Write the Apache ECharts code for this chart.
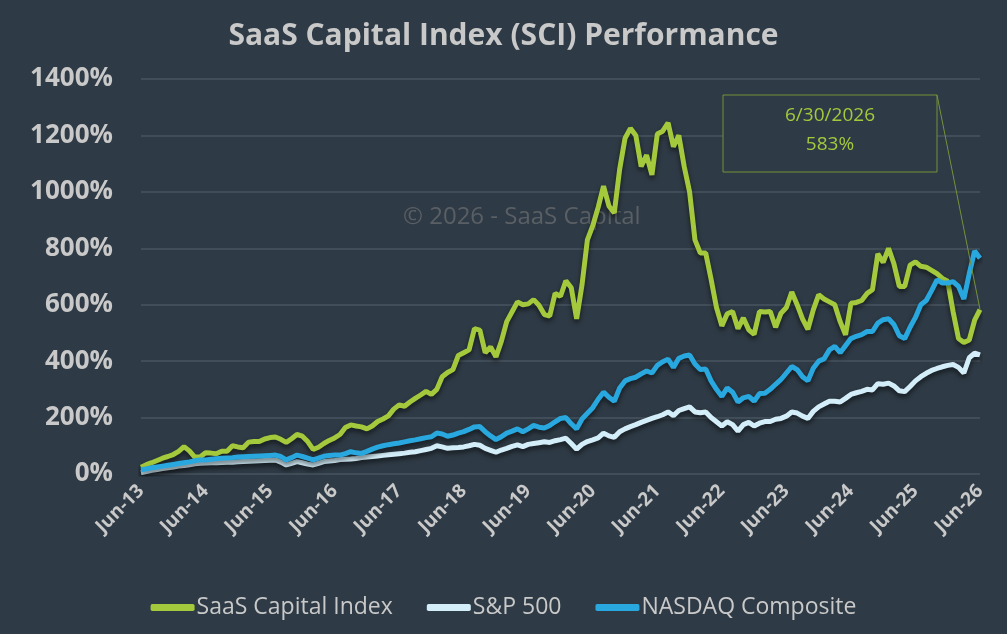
<!DOCTYPE html>
<html>
<head>
<meta charset="utf-8">
<script src="https://cdn.jsdelivr.net/npm/echarts@6/dist/echarts.min.js"></script>
<style>
  html, body { margin: 0; padding: 0; background: #2e3a45; }
  #chart { width: 1007px; height: 634px; }
</style>
</head>
<body>
<div id="chart"></div>
<script>
// monthly points, Jun-13 .. Jun-26 (157 months)
const monthNames = ["Jan", "Feb", "Mar", "Apr", "May", "Jun", "Jul", "Aug", "Sep", "Oct", "Nov", "Dec"];
const categories = [];
for (let i = 0; i < 157; i++) {
  const m = (5 + i) % 12;
  const y = 13 + Math.floor((5 + i) / 12);
  categories.push(monthNames[m] + "-" + y);
}

const yTicks = [0, 200, 400, 600, 800, 1000, 1200, 1400];

const saasIndex = [
  24, 33, 40, 48, 56, 62, 69, 80, 97, 82, 60, 60, 75, 74, 72, 81, 81, 100, 96, 93,
  113, 115, 115, 124, 129, 131, 123, 112, 125, 140, 134, 115, 87, 95, 108, 119, 128, 140, 165, 174,
  170, 167, 160, 170, 186, 195, 206, 230, 245, 240, 255, 268, 280, 293, 282, 300, 345, 360, 370, 420,
  430, 440, 515, 510, 430, 450, 415, 470, 540, 575, 610, 600, 603, 618, 598, 565, 560, 640, 630, 685,
  660, 550, 670, 830, 880, 945, 1020, 950, 925, 1080, 1190, 1225, 1200, 1090, 1130, 1060, 1205, 1215, 1245, 1160,
  1200, 1090, 1000, 830, 783, 783, 690, 590, 525, 568, 576, 515, 553, 511, 495, 576, 574, 576, 520, 570,
  590, 645, 600, 550, 513, 582, 635, 620, 610, 600, 540, 493, 605, 608, 615, 640, 653, 780, 750, 800,
  745, 665, 665, 740, 752, 736, 733, 722, 710, 693, 683, 575, 480, 466, 475, 545, 583
];

const sp500 = [
  5, 9, 13, 16, 19, 22, 25, 28, 30, 33, 36, 38, 39, 40, 40, 41, 42, 42, 43, 44,
  45, 46, 47, 48, 49, 50, 42, 32, 38, 44, 40, 35, 32, 38, 44, 46, 48, 51, 52, 53,
  55, 58, 60, 62, 64, 66, 68, 70, 72, 74, 77, 79, 83, 87, 91, 100, 96, 91, 93, 94,
  96, 100, 105, 102, 91, 84, 77, 85, 91, 98, 103, 97, 105, 108, 111, 114, 112, 118, 122, 127,
  108, 88, 105, 115, 121, 128, 145, 135, 130, 150, 160, 168, 175, 183, 190, 197, 203, 210, 220, 207,
  225, 232, 238, 220, 217, 220, 200, 185, 170, 185, 175, 152, 175, 183, 170, 180, 186, 186, 194, 197,
  205, 220, 216, 205, 197, 222, 238, 248, 258, 258, 255, 268, 282, 288, 293, 300, 298, 320, 318, 322,
  312, 295, 292, 310, 330, 345, 357, 367, 374, 380, 385, 388, 378, 358, 412, 428, 422
];

const nasdaq = [
  14, 18, 22, 25, 28, 31, 34, 37, 40, 43, 47, 50, 50, 52, 54, 56, 57, 58, 60, 61,
  62, 63, 64, 65, 66, 67, 62, 50, 58, 67, 62, 56, 50, 56, 63, 66, 67, 67, 72, 79,
  75, 73, 80, 88, 95, 100, 104, 107, 110, 114, 118, 121, 125, 129, 132, 145, 142, 134, 138, 145,
  150, 158, 167, 168, 150, 135, 122, 132, 145, 152, 160, 150, 160, 172, 166, 163, 172, 185, 197, 200,
  178, 160, 195, 215, 235, 265, 290, 272, 258, 305, 330, 338, 343, 355, 365, 358, 385, 398, 407, 378,
  410, 418, 422, 390, 370, 372, 330, 300, 275, 305, 290, 255, 270, 275, 258, 285, 286, 300, 318, 335,
  358, 381, 370, 345, 330, 375, 400, 408, 440, 452, 430, 455, 480, 488, 494, 505, 505, 535, 547, 550,
  530, 490, 480, 520, 555, 600, 615, 650, 688, 677, 677, 682, 665, 620, 710, 790, 765
];

const calloutDate = "6/30/2026";

const FONT = "'Open Sans', sans-serif";
const TEXT = "#c9c9c9";
const GREEN = "#a4c93c";
const shadow = { shadowColor: "rgba(0,0,0,0.55)", shadowBlur: 5, shadowOffsetY: 3 };

const chart = echarts.init(document.getElementById("chart"), null, { renderer: "canvas" });

function lineSeries(name, data, color) {
  return {
    name,
    type: "line",
    data,
    symbol: "none",
    smooth: false,
    lineStyle: { color, width: 5, ...shadow },
    itemStyle: { color },
  };
}

const lastIdx = saasIndex.length - 1;

chart.setOption({
  animation: false,
  backgroundColor: "#2e3a45",
  title: {
    text: "SaaS Capital Index (SCI) Performance",
    left: "center",
    top: 16,
    textStyle: { fontFamily: FONT, fontWeight: "bold", fontSize: 30, color: TEXT },
  },
  grid: { left: 141, right: 27, top: 79, bottom: 160 },
  legend: {
    bottom: 10,
    left: "center",
    itemWidth: 44,
    itemHeight: 7,
    itemGap: 34,
    icon: "roundRect",
    textStyle: { fontFamily: FONT, fontSize: 23, color: TEXT, padding: [0, 0, 0, -3] },
    data: ["SaaS Capital Index", "S&P 500", "NASDAQ Composite"],
  },
  xAxis: {
    type: "category",
    data: categories,
    boundaryGap: false,
    axisLine: { show: false },
    axisTick: { show: false },
    axisLabel: {
      interval: 11,
      rotate: 45,
      margin: 14,
      fontFamily: FONT,
      fontWeight: "bold",
      fontSize: 19,
      color: TEXT,
    },
  },
  yAxis: {
    type: "value",
    min: yTicks[0],
    max: yTicks[yTicks.length - 1],
    interval: 200,
    axisLine: { show: false },
    axisTick: { show: false },
    axisLabel: {
      formatter: (v) => v + "%",
      margin: 28,
      fontFamily: FONT,
      fontWeight: "bold",
      fontSize: 26,
      color: TEXT,
    },
    splitLine: { lineStyle: { color: "#414d58", width: 2 } },
  },
  series: [
    lineSeries("SaaS Capital Index", saasIndex, GREEN),
    lineSeries("S&P 500", sp500, "#d4eef9"),
    lineSeries("NASDAQ Composite", nasdaq, "#29a8df"),
  ],
});

// callout box + leader line to the last SCI point, watermark
const box = { x: 723, y: 95, w: 214, h: 77 };
const end = chart.convertToPixel({ gridIndex: 0 }, [lastIdx, saasIndex[lastIdx]]);

chart.setOption({
  graphic: [
    {
      type: "text",
      left: 403,
      top: 205,
      silent: true,
      style: {
        text: "\u00a9 2026 - SaaS Capital",
        fontFamily: FONT,
        fontSize: 24,
        fill: "rgba(125,125,125,0.55)",
      },
    },
    {
      type: "rect",
      shape: { x: box.x, y: box.y, width: box.w, height: box.h },
      style: { fill: "#2e3a45", stroke: "#74923a", lineWidth: 1 },
      z: 10,
    },
    {
      type: "line",
      shape: { x1: box.x + box.w, y1: box.y, x2: end[0], y2: end[1] },
      style: { stroke: "#74923a", lineWidth: 1 },
      z: 10,
    },
    {
      type: "text",
      x: box.x + box.w / 2,
      y: box.y + 21,
      style: {
        text: calloutDate,
        align: "center",
        verticalAlign: "middle",
        fontFamily: FONT,
        fontSize: 19,
        fill: GREEN,
      },
      z: 11,
    },
    {
      type: "text",
      x: box.x + box.w / 2,
      y: box.y + 50,
      style: {
        text: saasIndex[lastIdx] + "%",
        align: "center",
        verticalAlign: "middle",
        fontFamily: FONT,
        fontSize: 19,
        fill: GREEN,
      },
      z: 11,
    },
  ],
});
</script>
</body>
</html>
